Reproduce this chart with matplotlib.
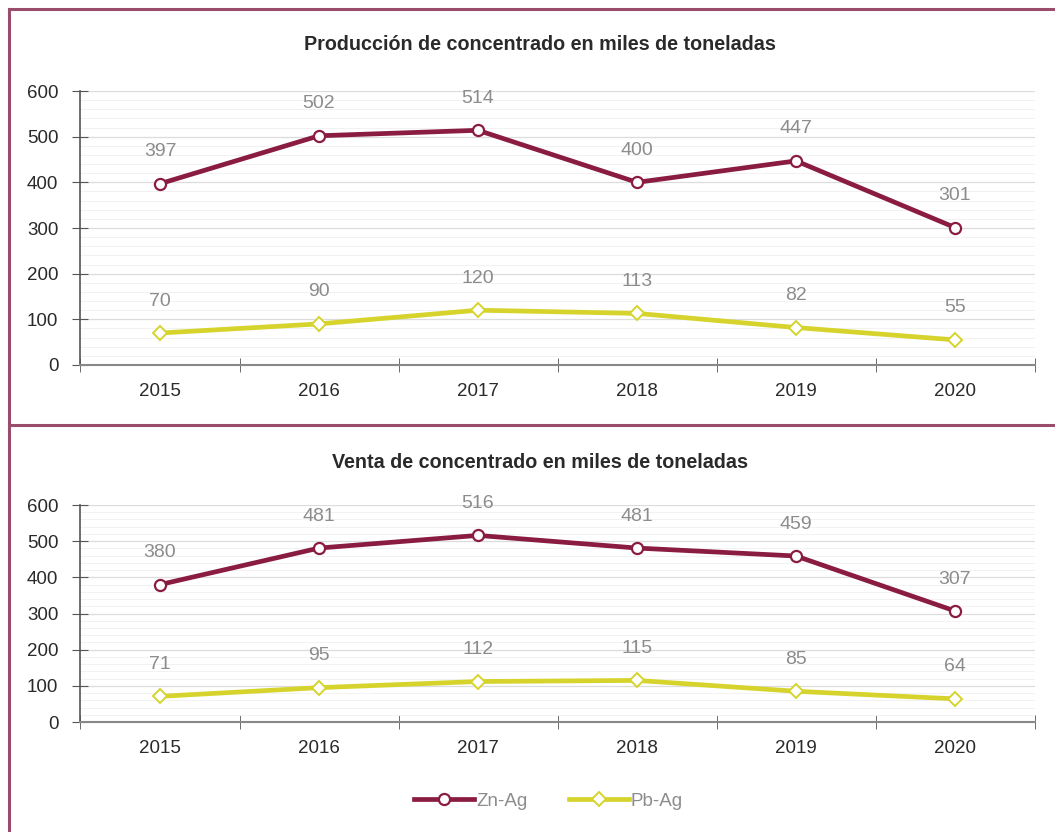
import numpy as np
import matplotlib.pyplot as plt
from matplotlib.lines import Line2D

years = ['2015', '2016', '2017', '2018', '2019', '2020']
prod_zn = [397, 502, 514, 400, 447, 301]
prod_pb = [70, 90, 120, 113, 82, 55]
venta_zn = [380, 481, 516, 481, 459, 307]
venta_pb = [71, 95, 112, 115, 85, 64]

ZN = '#8a1c42'
PB = '#d6d42c'
FRAME = '#9a4c6c'
TXT = '#2a2a2a'
LBL = '#8c8c8c'

plt.rcParams['font.family'] = ['Liberation Sans', 'DejaVu Sans']

fig = plt.figure(figsize=(10.55, 8.32), dpi=100)
fig.patch.set_facecolor('white')


def panel(rect, title, zn, pb, title_y):
    ax = fig.add_axes(rect)
    x = np.arange(len(years))
    ax.set_xlim(-0.5, len(years) - 0.5)
    ax.set_ylim(0, 600)
    ax.set_yticks(range(0, 601, 100))
    ax.set_yticks(range(0, 601, 20), minor=True)
    ax.grid(which='major', axis='y', color='#dcdcdc', lw=0.9)
    ax.grid(which='minor', axis='y', color='#f0f0f0', lw=0.6)
    ax.set_axisbelow(True)
    ax.set_xticks(x)
    ax.set_xticklabels(years)
    ax.set_xticks(np.arange(-0.5, len(years)), minor=True)
    ax.tick_params(axis='x', which='major', length=0, pad=13, labelsize=13.5, labelcolor=TXT)
    ax.tick_params(axis='x', which='minor', length=10, direction='inout', color='#555555')
    ax.tick_params(axis='y', which='major', length=12, direction='inout', pad=10,
                   labelsize=13.5, labelcolor=TXT, color='#555555')
    ax.tick_params(axis='y', which='minor', length=0)
    for s in ['top', 'right']:
        ax.spines[s].set_visible(False)
    ax.spines['left'].set_color('#555555')
    ax.spines['bottom'].set_color('#888888')
    ax.spines['left'].set_linewidth(1.2)
    ax.spines['bottom'].set_linewidth(1.5)

    ax.plot(x, zn, color=ZN, lw=3.4, marker='o', ms=8, mfc='white', mec=ZN, mew=1.6)
    ax.plot(x, pb, color=PB, lw=3.4, marker='D', ms=7, mfc='white', mec=PB, mew=1.4)
    for xi, v in zip(x, zn):
        ax.annotate(str(v), (xi, v), xytext=(0, 23), textcoords='offset points',
                    ha='center', va='center', fontsize=14, color=LBL)
    for xi, v in zip(x, pb):
        ax.annotate(str(v), (xi, v), xytext=(0, 23), textcoords='offset points',
                    ha='center', va='center', fontsize=14, color=LBL)
    fig.text(0.512, title_y, title, ha='center', va='center', fontsize=14.2,
             fontweight='bold', color=TXT)
    return ax


panel([0.0763, 0.5613, 0.9043, 0.3293],
      'Producción de concentrado en miles de toneladas', prod_zn, prod_pb, 1 - 45 / 832)
panel([0.0763, 0.1322, 0.9043, 0.2608],
      'Venta de concentrado en miles de toneladas', venta_zn, venta_pb, 1 - 462 / 832)

# frame lines
fig.add_artist(Line2D([9 / 1055, 9 / 1055], [0, 1 - 9 / 832], color=FRAME, lw=2.2))
fig.add_artist(Line2D([9 / 1055, 1], [1 - 9 / 832, 1 - 9 / 832], color=FRAME, lw=2.2))
fig.add_artist(Line2D([9 / 1055, 1], [1 - 425 / 832, 1 - 425 / 832], color=FRAME, lw=2.2))

handles = [
    Line2D([], [], color=ZN, lw=3.4, marker='o', ms=8, mfc='white', mec=ZN, mew=1.6),
    Line2D([], [], color=PB, lw=3.4, marker='D', ms=7, mfc='white', mec=PB, mew=1.4),
]
leg = fig.legend(handles, ['Zn-Ag', 'Pb-Ag'], loc='center', bbox_to_anchor=(0.52, 1 - 801 / 832),
                 ncol=2, frameon=False, fontsize=13.5, handlelength=3.2, handletextpad=0.1,
                 columnspacing=2.2)
for t in leg.get_texts():
    t.set_color(LBL)

fig.savefig('out.png', dpi=100)
